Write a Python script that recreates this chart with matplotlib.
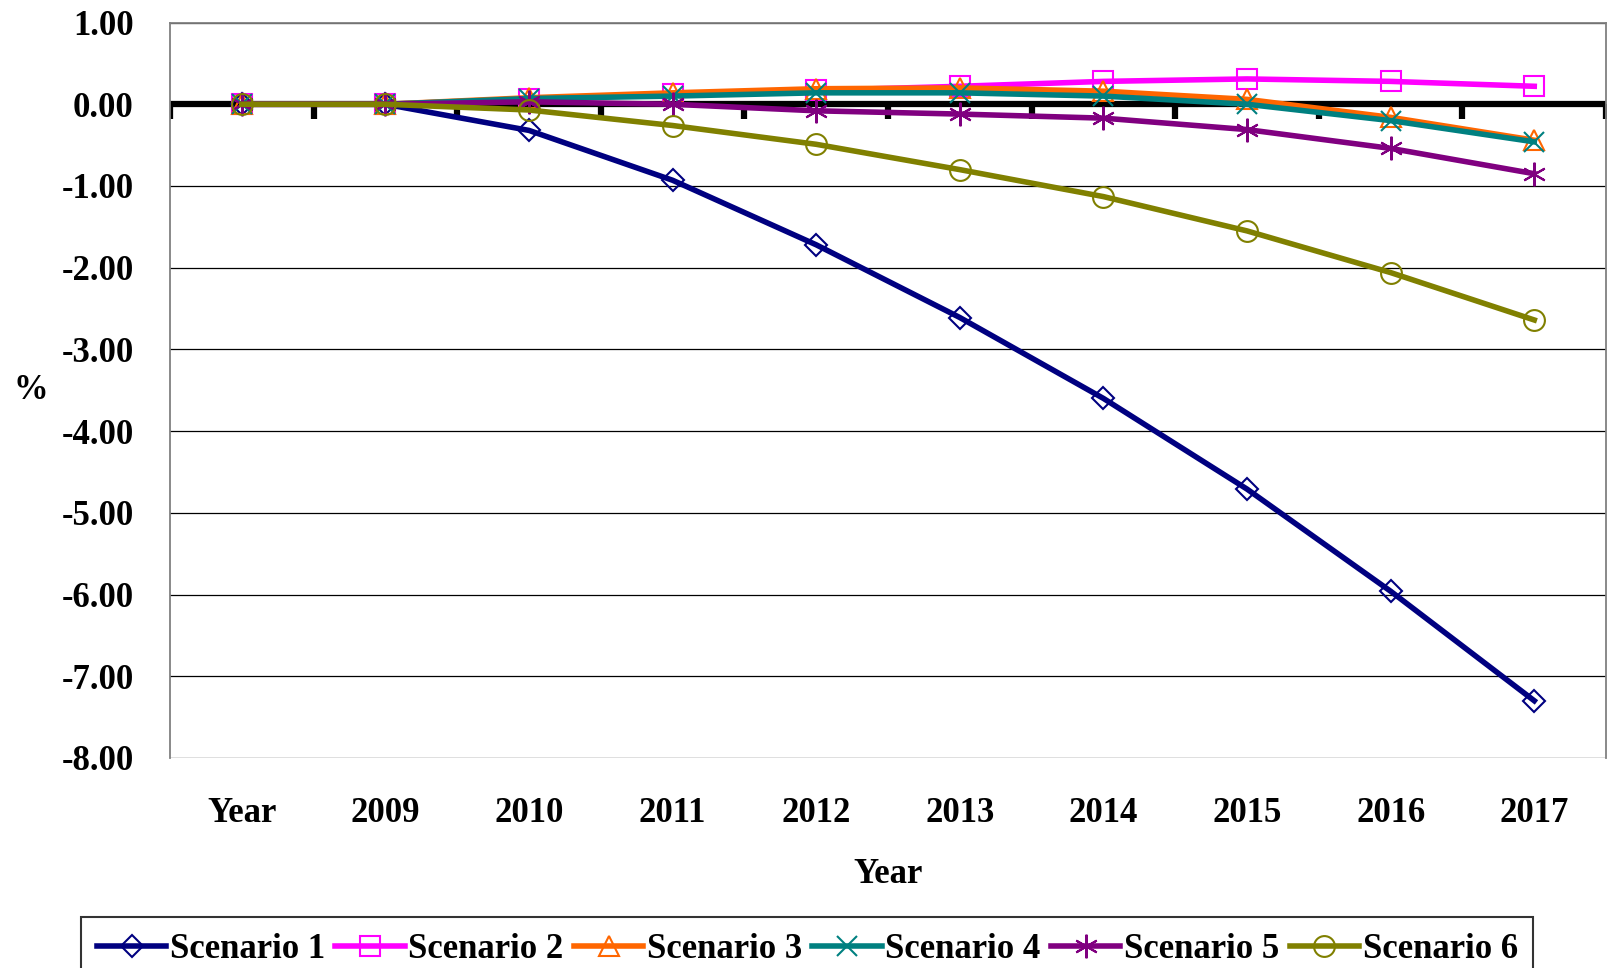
import matplotlib.pyplot as plt
import numpy as np
from matplotlib.markers import TICKDOWN

plt.rcParams['font.family'] = ['Liberation Serif', 'DejaVu Serif']
plt.rcParams['font.weight'] = 'bold'

# 数据
categories = ['Year', '2009', '2010', '2011', '2012', '2013', '2014', '2015', '2016', '2017']
scenario_1 = [0.00, 0.00, -0.32, -0.93, -1.72, -2.61, -3.60, -4.71, -5.96, -7.30]
scenario_2 = [0.00, 0.00, 0.06, 0.12, 0.17, 0.22, 0.28, 0.31, 0.28, 0.22]
scenario_3 = [0.00, 0.00, 0.08, 0.14, 0.19, 0.20, 0.16, 0.06, -0.16, -0.44]
scenario_4 = [0.00, 0.00, 0.07, 0.10, 0.14, 0.14, 0.10, 0.00, -0.20, -0.46]
scenario_5 = [0.00, 0.00, 0.03, 0.00, -0.08, -0.12, -0.17, -0.31, -0.54, -0.85]
scenario_6 = [0.00, 0.00, -0.07, -0.26, -0.49, -0.80, -1.13, -1.55, -2.06, -2.64]
series_labels = ['Scenario 1', 'Scenario 2', 'Scenario 3', 'Scenario 4', 'Scenario 5', 'Scenario 6']

series = [scenario_1, scenario_2, scenario_3, scenario_4, scenario_5, scenario_6]
colors = ['#000080', '#FF00FF', '#FF6600', '#008080', '#800080', '#808000']
markers = ['D', 's', '^', 'x', (6, 2, 0), 'o']
marker_sizes = [11, 15, 14, 15, 17, 15]

fig = plt.figure(figsize=(16.08, 9.68), dpi=100)
ax = fig.add_axes([0.1057, 0.217, 0.8931, 0.7597])

x = np.arange(len(categories))

# 网格线
ax.set_ylim(-8, 1)
ax.set_xlim(-0.5, len(categories) - 0.5)
ax.set_yticks(np.arange(-8, 2, 1))
ax.yaxis.grid(True, color='black', linewidth=0.9)
ax.set_axisbelow(True)

# 零线及其刻度
ax.axhline(0, color='black', linewidth=4.5, zorder=2.5)
bounds = np.arange(len(categories) + 1) - 0.5
ax.plot(bounds, np.zeros_like(bounds), linestyle='none', marker=TICKDOWN,
        markersize=11, markeredgewidth=4.5, color='black', zorder=2.5)

for i, data in enumerate(series):
    ax.plot(x, data, color=colors[i], linewidth=4, marker=markers[i],
            markersize=marker_sizes[i], markerfacecolor='none',
            markeredgecolor=colors[i], markeredgewidth=1.5,
            label=series_labels[i], zorder=3 + i * 0.1)

ax.set_xticks(x)
ax.set_xticklabels(categories)
ax.set_yticklabels(['%.2f' % v for v in np.arange(-8, 2, 1)])
ax.tick_params(axis='both', length=0, labelsize=25)
ax.tick_params(axis='x', pad=28)
ax.tick_params(axis='y', pad=26)

for side in ['top', 'right', 'left']:
    ax.spines[side].set_color('#808080')
    ax.spines[side].set_linewidth(1.3)
ax.spines['bottom'].set_visible(False)

ax.set_xlabel('Year', fontsize=25, fontweight='bold', labelpad=20)
ax.set_ylabel('%', fontsize=25, fontweight='bold', rotation=0, va='center', ha='center')
ax.yaxis.set_label_coords(-0.097, 0.5)

legend = fig.legend(loc='upper center', bbox_to_anchor=(0.502, 0.063), ncol=6,
                    prop={'size': 25, 'weight': 'bold'}, frameon=True,
                    fancybox=False, handlelength=2.0, handletextpad=0.1,
                    columnspacing=0.3, borderpad=0.45, borderaxespad=0.3)
legend.get_frame().set_edgecolor('black')
legend.get_frame().set_linewidth(1.5)

fig.savefig('out.png', dpi=100)
